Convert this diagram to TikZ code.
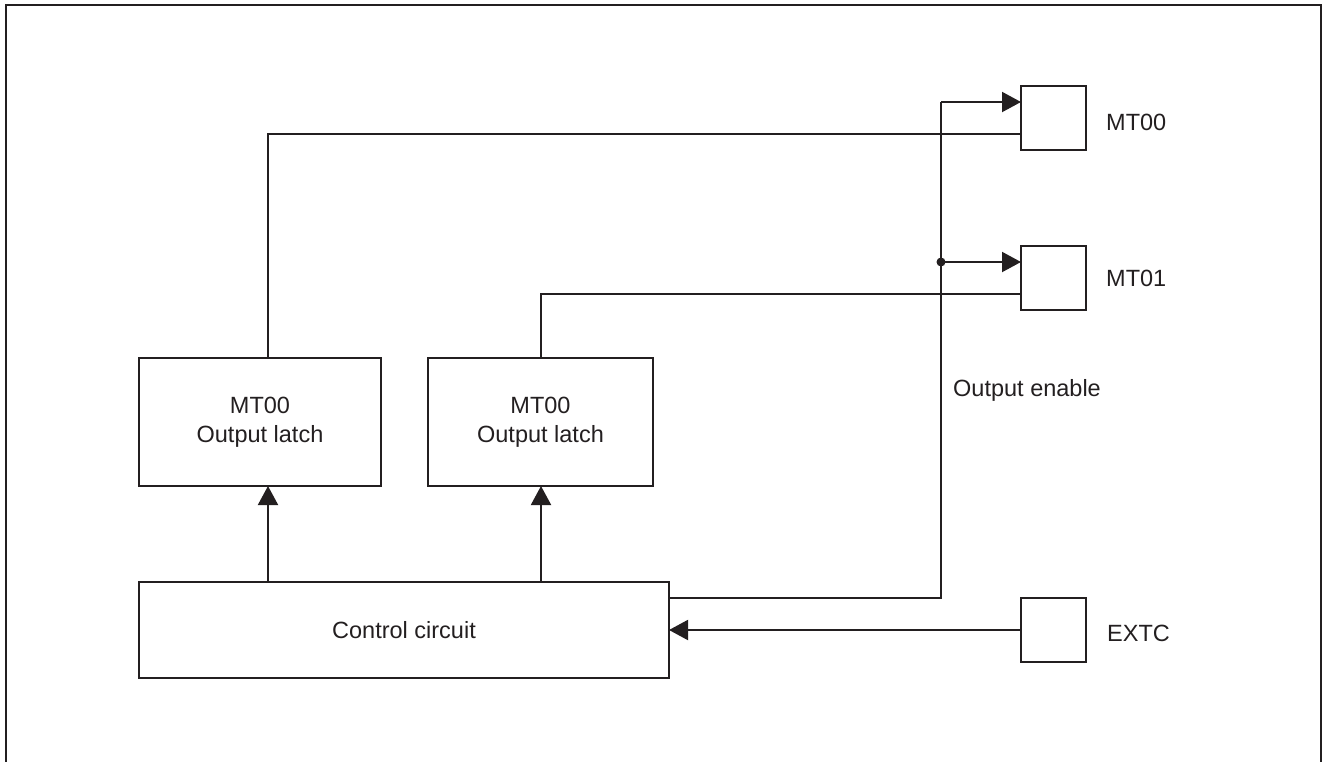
\documentclass[tikz,border=0pt]{standalone}
\usepackage{fontspec}
\setmainfont{Liberation Sans}
\usetikzlibrary{arrows.meta,calc}
\definecolor{ink}{HTML}{231F20}
\begin{document}
\begin{tikzpicture}[x=1pt,y=1pt,
  wire/.style={draw=ink,line width=2pt},
  arr/.style={wire,-{Triangle[length=19pt,width=20pt]}},
  blk/.style={draw=ink,line width=2pt,inner sep=0pt,outer sep=0pt,anchor=north west,align=center,
    font=\fontsize{23.5}{29}\selectfont,text=ink},
  lbl/.style={inner sep=0pt,anchor=west,font=\fontsize{23.5}{29}\selectfont,text=ink}]
\useasboundingbox (0,0) rectangle (1328,-761);
% frame
\draw[wire] (6,-775) -- (6,-5) -- (1321,-5) -- (1321,-775);
% blocks
\node[blk,minimum width=242,minimum height=128] (l1) at (139,-358) {MT00\\Output latch};
\node[blk,minimum width=225,minimum height=128] (l2) at (428,-358) {MT00\\Output latch};
\node[blk,minimum width=530,minimum height=96] (cc) at (139,-582) {Control circuit};
\node[blk,minimum width=65,minimum height=64] (mt0) at (1021,-86) {};
\node[blk,minimum width=65,minimum height=64] (mt1) at (1021,-246) {};
\node[blk,minimum width=65,minimum height=64] (extc) at (1021,-598) {};
% labels
\node[lbl] (lmt0) at (1106,-122) {MT00};
\node[lbl] (lmt1) at (1106,-278) {MT01};
\node[lbl] (lextc) at (1107,-633) {EXTC};
\node[lbl] (loe) at (953,-390) {Output enable};
% coordinates
\coordinate (w1) at (268,-134);
\coordinate (w2) at (541,-294);
\coordinate (oeb) at (941,-598);
\coordinate (oet) at (941,-102);
\coordinate (dot) at (941,-262);
% latch outputs
\draw[wire] (l1.north -| w1) -- (w1) -- (mt0.west |- w1);
\draw[wire] (l2.north -| w2) -- (w2) -- (mt1.west |- w2);
% control to latches
\draw[arr] (cc.north -| w1) -- (l1.south -| w1);
\draw[arr] (cc.north -| w2) -- (l2.south -| w2);
% output enable
\draw[wire] (cc.east |- oeb) -- (oeb) -- (oet);
\draw[arr] (oet) -- (mt0.west |- oet);
\draw[arr] (dot) -- (mt1.west |- dot);
\fill[ink] (dot) circle (4.5);
% EXTC
\draw[arr] (extc.west) -- (cc.east |- extc.west);
\end{tikzpicture}
\end{document}
